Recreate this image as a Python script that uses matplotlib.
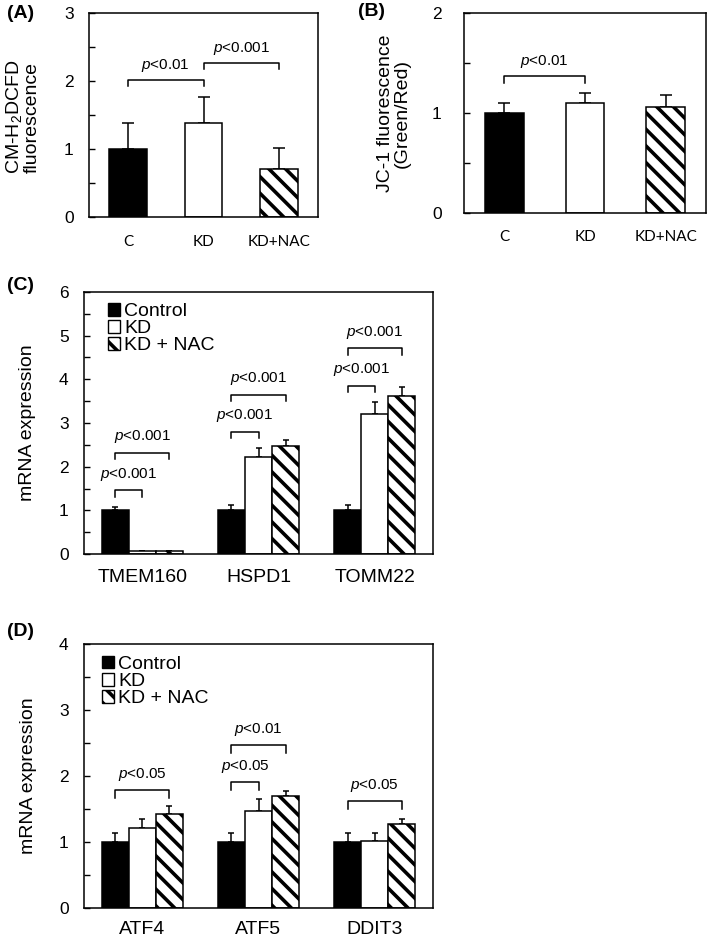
import matplotlib
matplotlib.use("Agg")
import matplotlib.pyplot as plt
from matplotlib.patches import Patch
from matplotlib.ticker import MultipleLocator
import numpy as np

plt.rcParams['font.family'] = ['Liberation Sans', 'DejaVu Sans']
plt.rcParams['mathtext.fontset'] = 'custom'
plt.rcParams['mathtext.rm'] = 'Liberation Sans'
plt.rcParams['mathtext.it'] = 'Liberation Sans:italic'
plt.rcParams['hatch.linewidth'] = 2.6

# ---- data ----
# panel A: ROS (CM-H2DCFD)
groups_ab = ['C', 'KD', 'KD+NAC']
ros_mean = [1.00, 1.38, 0.70]
ros_err = [0.38, 0.39, 0.31]
# panel B: JC-1
jc1_mean = [1.00, 1.10, 1.06]
jc1_err = [0.10, 0.10, 0.12]

# panel C: mitochondrial genes
genes_c = ['TMEM160', 'HSPD1', 'TOMM22']
c_ctrl = [1.00, 1.00, 1.00]
c_ctrl_err = [0.07, 0.13, 0.12]
c_kd = [0.07, 2.23, 3.20]
c_kd_err = [0.005, 0.20, 0.28]
c_nac = [0.07, 2.47, 3.62]
c_nac_err = [0.005, 0.14, 0.20]

# panel D: stress genes
genes_d = ['ATF4', 'ATF5', 'DDIT3']
d_ctrl = [1.00, 1.00, 1.00]
d_ctrl_err = [0.13, 0.14, 0.14]
d_kd = [1.21, 1.47, 1.02]
d_kd_err = [0.14, 0.18, 0.12]
d_nac = [1.43, 1.70, 1.27]
d_nac_err = [0.11, 0.07, 0.08]

legend_labels = ['Control', 'KD', 'KD + NAC']

# significance brackets: (left bar, right bar, bracket top, text)
sig_a = [(0, 1, 2.01, 'p<0.01'), (1, 2, 2.26, 'p<0.001')]
sig_b = [(0, 1, 1.37, 'p<0.01')]
sig_c = [(0, 0, 1, 1.46, 'p<0.001'), (0, 0, 2, 2.32, 'p<0.001'),
         (1, 0, 1, 2.80, 'p<0.001'), (1, 0, 2, 3.65, 'p<0.001'),
         (2, 0, 1, 3.85, 'p<0.001'), (2, 0, 2, 4.71, 'p<0.001')]
sig_d = [(0, 0, 2, 1.79, 'p<0.05'),
         (1, 0, 1, 1.91, 'p<0.05'), (1, 0, 2, 2.47, 'p<0.01'),
         (2, 0, 2, 1.62, 'p<0.05')]

HATCH = '\\\\'
W, H = 709, 942
fig = plt.figure(figsize=(W / 100, H / 100), dpi=100)


def px_axes(l, r, t, b):
    return fig.add_axes([l / W, 1 - b / H, (r - l) / W, (b - t) / H])


def style_axes(ax, ymax, ypad):
    ax.set_ylim(0, ymax)
    ax.yaxis.set_major_locator(MultipleLocator(1))
    ax.yaxis.set_minor_locator(MultipleLocator(0.5))
    ax.tick_params(axis='y', which='both', direction='in', length=4,
                   width=1, labelsize=12.5, pad=ypad)
    ax.tick_params(axis='x', length=0)
    for s in ax.spines.values():
        s.set_linewidth(1.1)


def p_text(s):
    return '$p$' + s[1:]


def bracket(ax, x1, x2, top, label, leg, gap):
    ax.plot([x1, x1, x2, x2], [top - leg, top, top, top - leg],
            color='black', lw=1.1)
    ax.text((x1 + x2) / 2, top + gap, p_text(label), ha='center',
            va='bottom', fontsize=11)


# ---------- panel A ----------
axA = px_axes(89, 318, 13, 217)
xa = np.arange(3)
colors = ['black', 'white', 'white']
hatches = [None, None, HATCH]
for i in range(3):
    axA.bar(xa[i], ros_mean[i], 0.5, color=colors[i], edgecolor='black',
            hatch=hatches[i], lw=1.1, zorder=2)
    axA.errorbar(xa[i], ros_mean[i], yerr=[[0], [ros_err[i]]], fmt='none',
                 ecolor='black', elinewidth=1.1, capsize=4, capthick=1.1,
                 zorder=1)
axA.set_xlim(-0.52, 2.52)
style_axes(axA, 3, 11)
axA.set_xticks(xa)
axA.set_xticklabels(groups_ab, family='Lato', fontsize=11)
axA.tick_params(axis='x', pad=13)
for i, j, top, lab in sig_a:
    bracket(axA, xa[i], xa[j], top, lab, 0.09, 0.1)
axA.set_ylabel('CM-H$_2$DCFD\nfluorescence', fontsize=14, va='center',
               linespacing=1.0)
axA.yaxis.set_label_coords(-0.29, 0.49)

# ---------- panel B ----------
axB = px_axes(464, 706, 13, 213)
for i in range(3):
    axB.bar(xa[i], jc1_mean[i], 0.48, color=colors[i], edgecolor='black',
            hatch=hatches[i], lw=1.1, zorder=2)
    axB.errorbar(xa[i], jc1_mean[i], yerr=[[0], [jc1_err[i]]], fmt='none',
                 ecolor='black', elinewidth=1.1, capsize=4, capthick=1.1,
                 zorder=1)
axB.set_xlim(-0.5, 2.5)
style_axes(axB, 2, 16)
axB.set_xticks(xa)
axB.set_xticklabels(groups_ab, family='Lato', fontsize=11)
axB.tick_params(axis='x', pad=12)
for i, j, top, lab in sig_b:
    bracket(axB, xa[i], xa[j], top, lab, 0.07, 0.06)
axB.set_ylabel('JC-1 fluorescence\n(Green/Red)', fontsize=14, va='center',
               linespacing=1.0)
axB.yaxis.set_label_coords(-0.29, 0.5)


# ---------- panels C and D ----------
def grouped(ax, genes, series, errs, ymax, sig, leg, gap, legend_xy):
    x = np.arange(len(genes))
    bw = 0.233
    offs = [-bw, 0, bw]
    for k in range(3):
        ax.bar(x + offs[k], series[k], bw, color=colors[k], edgecolor='black',
               hatch=hatches[k], lw=1.1, zorder=2, label=legend_labels[k])
        ax.errorbar(x + offs[k], series[k],
                    yerr=[np.zeros(len(genes)), errs[k]], fmt='none',
                    ecolor='black', elinewidth=1.1, capsize=2.5,
                    capthick=1.1, zorder=1)
    ax.set_xlim(-0.5, len(genes) - 0.5)
    style_axes(ax, ymax, 11)
    ax.set_xticks(x)
    ax.set_xticklabels(genes, fontsize=14)
    for g, i, j, top, lab in sig:
        bracket(ax, x[g] + offs[i], x[g] + offs[j], top, lab, leg, gap)
    ax.set_ylabel('mRNA expression', fontsize=14, va='center')
    handles = [Patch(facecolor=colors[k], edgecolor='black', hatch=hatches[k],
                     lw=1.0, label=legend_labels[k]) for k in range(3)]
    ax.legend(handles=handles, loc='upper left', bbox_to_anchor=legend_xy,
              frameon=False, fontsize=14, handlelength=0.62,
              handleheight=0.62, handletextpad=0.2, labelspacing=0.0,
              borderpad=0, borderaxespad=0)


axC = px_axes(84, 433, 292, 554)
grouped(axC, genes_c, [c_ctrl, c_kd, c_nac], [c_ctrl_err, c_kd_err, c_nac_err],
        6, sig_c, 0.15, 0.17, (0.069, 0.958))
axC.tick_params(axis='x', pad=11)
axC.yaxis.set_label_coords(-0.163, 0.5)

axD = px_axes(84, 433, 644, 908)
grouped(axD, genes_d, [d_ctrl, d_kd, d_nac], [d_ctrl_err, d_kd_err, d_nac_err],
        4, sig_d, 0.12, 0.1, (0.052, 0.955))
axD.tick_params(axis='x', pad=9)
axD.yaxis.set_label_coords(-0.158, 0.5)

# panel letters
for lab, x, y in [('(A)', 7, 14), ('(B)', 358, 11), ('(C)', 7, 285),
                  ('(D)', 7, 631)]:
    fig.text(x / W, 1 - y / H, lab, ha='left', va='center', fontsize=14,
             fontweight='bold')

fig.savefig('out.png', dpi=100)
